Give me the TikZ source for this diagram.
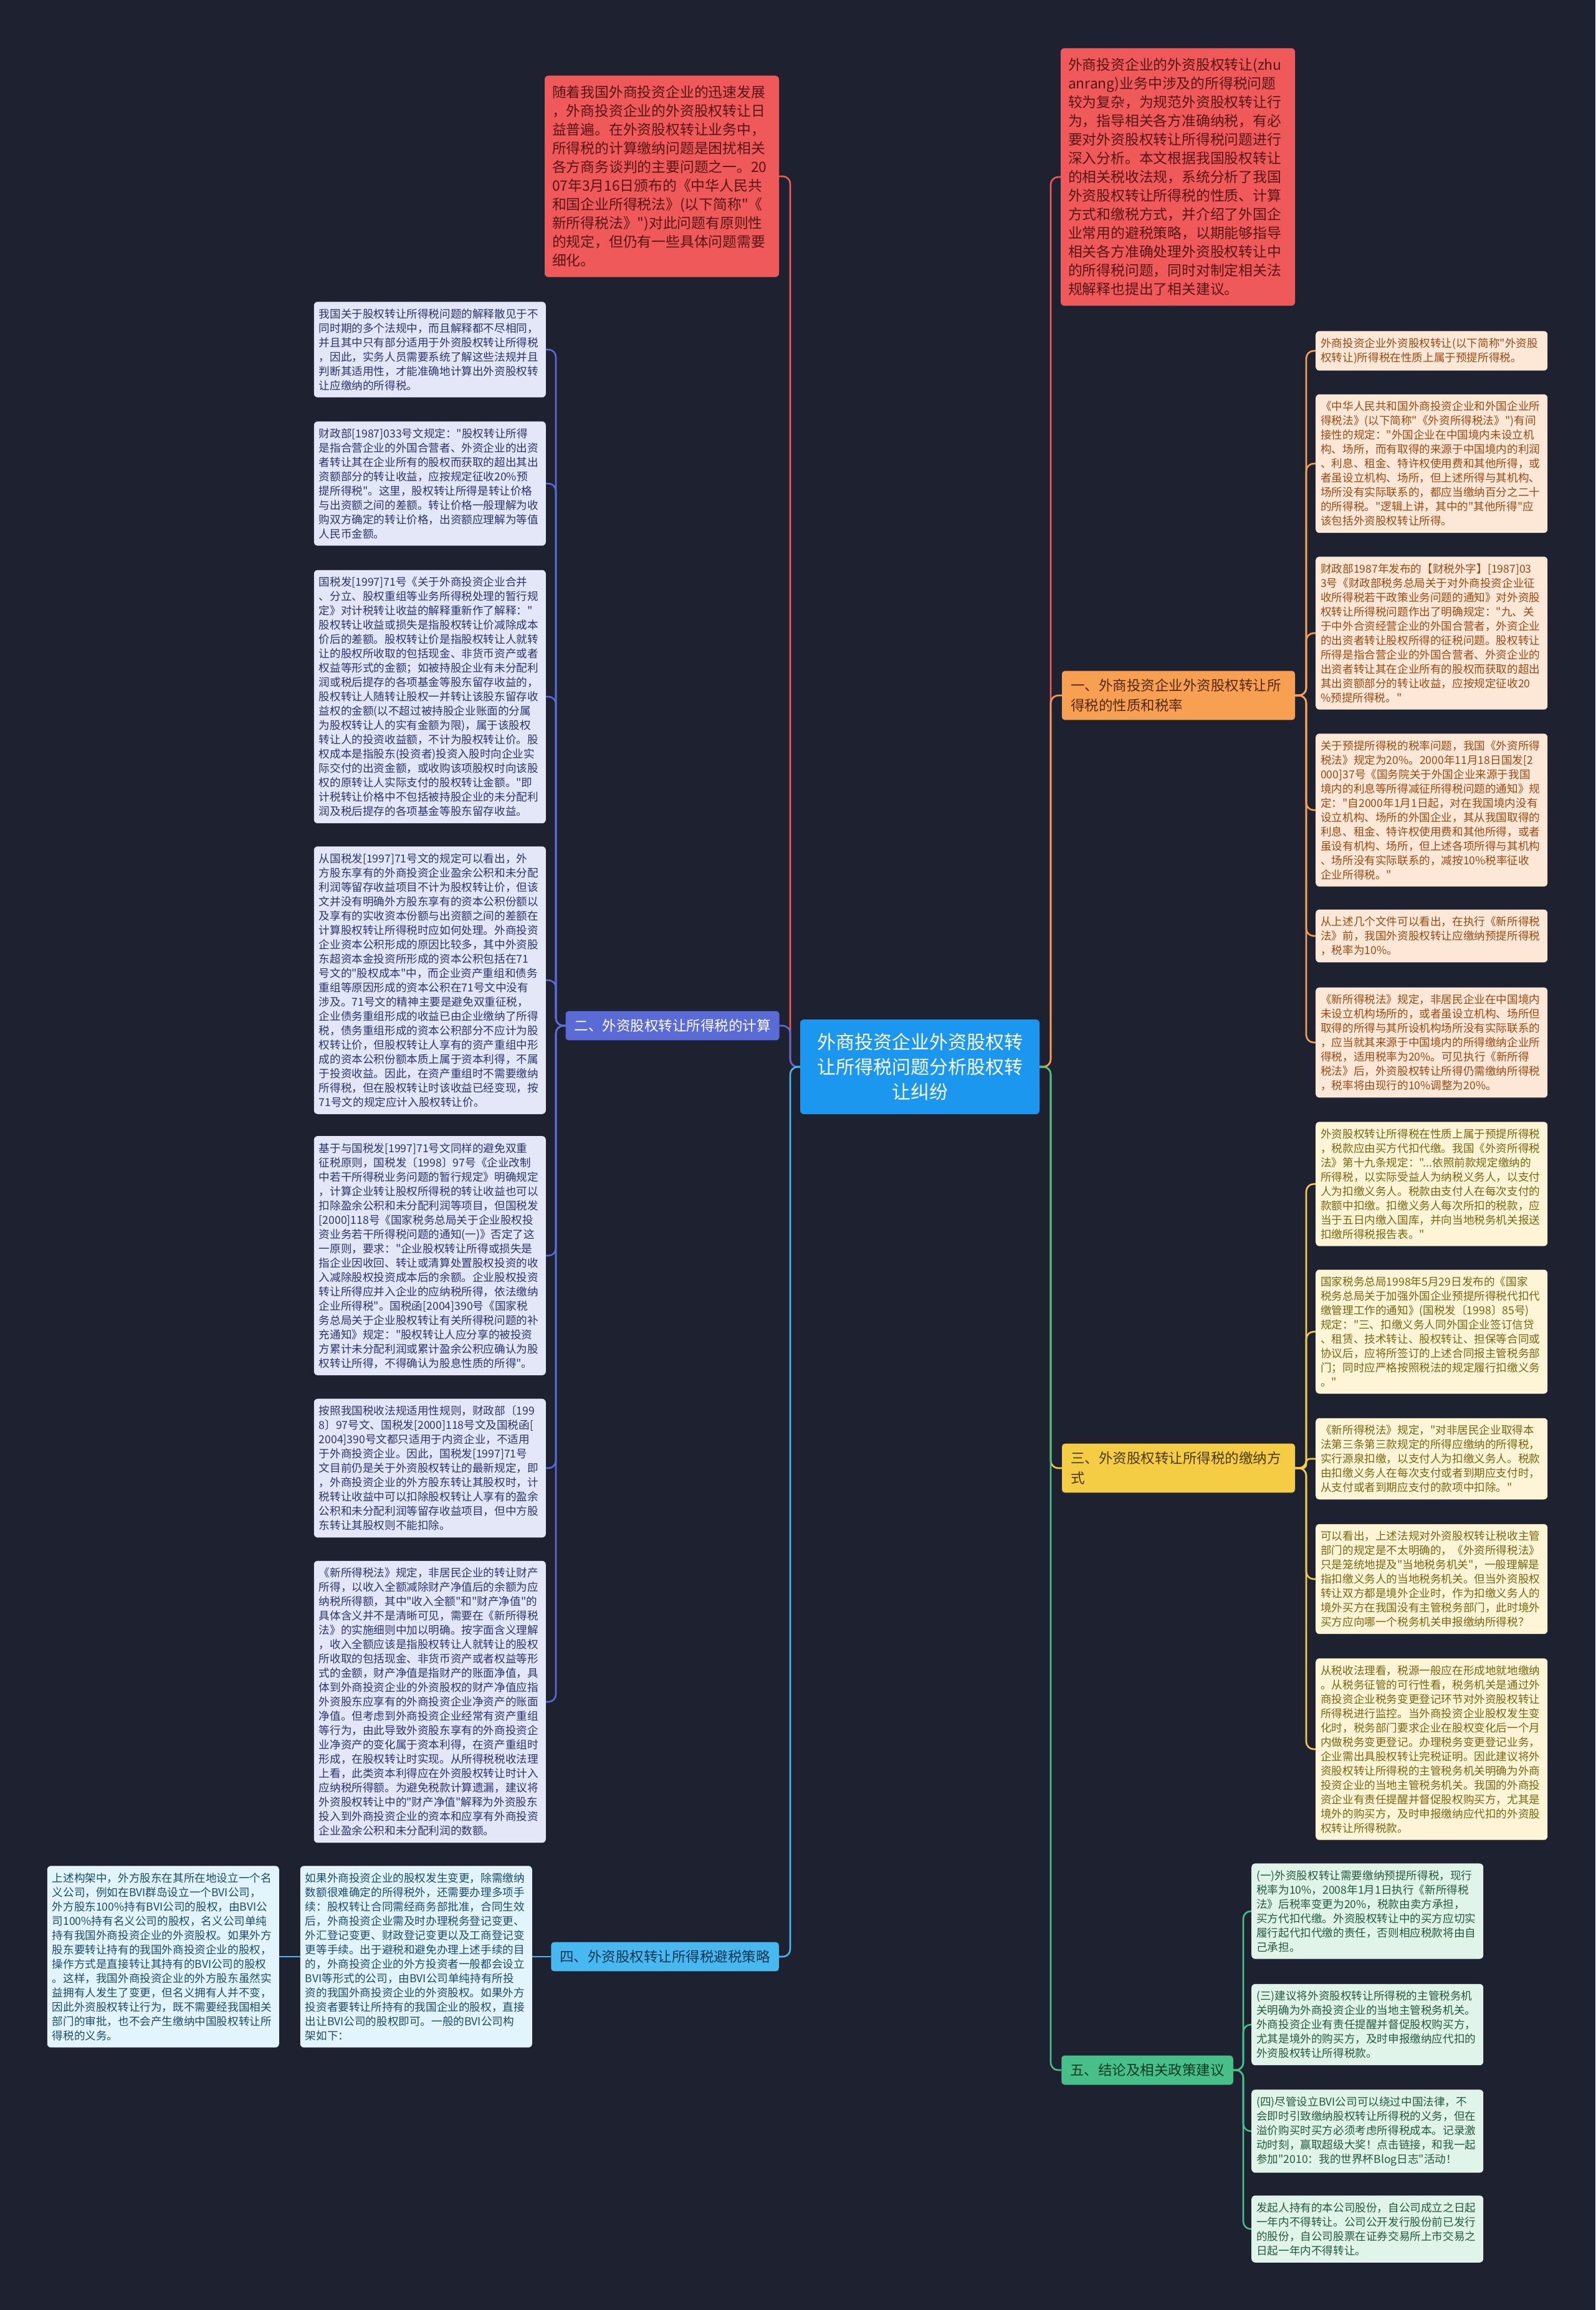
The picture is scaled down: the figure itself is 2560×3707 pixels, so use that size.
\documentclass[tikz,border=0pt]{standalone}
\usepackage{fontspec}
\newfontfamily\cjk{Noto Sans CJK SC}

\definecolor{bgnavy}{HTML}{1E2230}
\definecolor{redfill}{HTML}{F0595A}
\definecolor{redink}{HTML}{561616}
\definecolor{rootfill}{HTML}{1B97F0}
\definecolor{orfill}{HTML}{F7A052}
\definecolor{orink}{HTML}{55280A}
\definecolor{orleaf}{HTML}{FDE8D8}
\definecolor{orleafink}{HTML}{9A4A12}
\definecolor{bufill}{HTML}{5A6AD6}
\definecolor{buleaf}{HTML}{E4E7F8}
\definecolor{buleafink}{HTML}{2A3470}
\definecolor{yefill}{HTML}{F4CD45}
\definecolor{yeink}{HTML}{4A3A00}
\definecolor{yeleaf}{HTML}{FDF5D6}
\definecolor{yeleafink}{HTML}{7A6512}
\definecolor{cyfill}{HTML}{47B9F0}
\definecolor{cyink}{HTML}{0E3550}
\definecolor{cyleaf}{HTML}{E2F4FC}
\definecolor{cyleafink}{HTML}{1B4B6E}
\definecolor{grfill}{HTML}{47BF88}
\definecolor{grink}{HTML}{0E3A26}
\definecolor{grleaf}{HTML}{E1F4E9}
\definecolor{grleafink}{HTML}{215A3F}

\begin{document}
\begin{tikzpicture}[
    x=1pt, y=-1pt,
    link/.style={line width=2.6pt, rounded corners=12pt},
    rootbox/.style={fill=rootfill, text=white, rounded corners=6pt,
        text width=340pt, inner xsep=22pt, inner ysep=22pt, align=center,
        font=\cjk\fontsize{30}{40}\selectfont},
    introbox/.style={fill=redfill, text=redink, rounded corners=6pt,
        text width=352pt, inner xsep=12pt, inner ysep=16pt, align=left,
        font=\cjk\fontsize{22.8}{30}\selectfont},
    branch/.style={rounded corners=5pt, inner xsep=14pt, inner ysep=13pt,
        align=left, font=\cjk\fontsize{22.5}{32}\selectfont},
    leaf/.style={rounded corners=6pt, text width=356pt, inner xsep=8pt,
        inner ysep=11pt, align=left, font=\cjk\fontsize{17.6}{23}\selectfont},
    leafbu/.style={leaf, fill=buleaf, text=buleafink, anchor=east},
    leafor/.style={leaf, fill=orleaf, text=orleafink, anchor=west},
    leafye/.style={leaf, fill=yeleaf, text=yeleafink, anchor=west},
    leafgr/.style={leaf, fill=grleaf, text=grleafink, anchor=west},
    leafcy/.style={leaf, fill=cyleaf, text=cyleafink, anchor=east}
]

\useasboundingbox (0,0) rectangle (2560,3707);
\fill[bgnavy] (0,0) rectangle (2560,3707);

%------------------------------------------------
% centre and intro boxes
%------------------------------------------------
\node[rootbox] (root) at (1476,1712)
    {外商投资企业外资股权转\\让所得税问题分析股权转\\让纠纷};

\node[introbox] (introL) at (1062,283) {随着我国外商投资企业的迅速发展\\，外商投资企业的外资股权转让日\\益普遍。在外资股权转让业务中，\\所得税的计算缴纳问题是困扰相关\\各方商务谈判的主要问题之一。20\\07年3月16日颁布的《中华人民共\\和国企业所得税法》(以下简称"《\\新所得税法》")对此问题有原则性\\的规定，但仍有一些具体问题需要\\细化。};

\node[introbox] (introR) at (1890,284) {外商投资企业的外资股权转让(zhu\\anrang)业务中涉及的所得税问题\\较为复杂，为规范外资股权转让行\\为，指导相关各方准确纳税，有必\\要对外资股权转让所得税问题进行\\深入分析。本文根据我国股权转让\\的相关税收法规，系统分析了我国\\外资股权转让所得税的性质、计算\\方式和缴税方式，并介绍了外国企\\业常用的避税策略，以期能够指导\\相关各方准确处理外资股权转让中\\的所得税问题，同时对制定相关法\\规解释也提出了相关建议。};

%------------------------------------------------
% branches
%------------------------------------------------
\node[branch, fill=orfill, text=orink, text width=346pt] (b1) at (1891,1116)
    {一、外商投资企业外资股权转让所\\得税的性质和税率};
\node[branch, fill=bufill, text=white] (b2) at (1079,1646)
    {二、外资股权转让所得税的计算};
\node[branch, fill=yefill, text=yeink, text width=346pt] (b3) at (1891,2356)
    {三、外资股权转让所得税的缴纳方\\式};
\node[branch, fill=cyfill, text=cyink] (b4) at (1067,3140)
    {四、外资股权转让所得税避税策略};
\node[branch, fill=grfill, text=grink] (b5) at (1841,3322)
    {五、结论及相关政策建议};

%------------------------------------------------
% branch 2 leaves (left column)
%------------------------------------------------
\node[leafbu] (c1) at (876,561) {我国关于股权转让所得税问题的解释散见于不\\同时期的多个法规中，而且解释都不尽相同，\\并且其中只有部分适用于外资股权转让所得税\\，因此，实务人员需要系统了解这些法规并且\\判断其适用性，才能准确地计算出外资股权转\\让应缴纳的所得税。};

\node[leafbu] (c2) at (876,776) {财政部[1987]033号文规定："股权转让所得\\是指合营企业的外国合营者、外资企业的出资\\者转让其在企业所有的股权而获取的超出其出\\资额部分的转让收益，应按规定征收20\%预\\提所得税"。这里，股权转让所得是转让价格\\与出资额之间的差额。转让价格一般理解为收\\购双方确定的转让价格，出资额应理解为等值\\人民币金额。};

\node[leafbu] (c3) at (876,1118) {国税发[1997]71号《关于外商投资企业合并\\、分立、股权重组等业务所得税处理的暂行规\\定》对计税转让收益的解释重新作了解释："\\股权转让收益或损失是指股权转让价减除成本\\价后的差额。股权转让价是指股权转让人就转\\让的股权所收取的包括现金、非货币资产或者\\权益等形式的金额；如被持股企业有未分配利\\润或税后提存的各项基金等股东留存收益的，\\股权转让人随转让股权一并转让该股东留存收\\益权的金额(以不超过被持股企业账面的分属\\为股权转让人的实有金额为限)，属于该股权\\转让人的投资收益额，不计为股权转让价。股\\权成本是指股东(投资者)投资入股时向企业实\\际交付的出资金额，或收购该项股权时向该股\\权的原转让人实际支付的股权转让金额。"即\\计税转让价格中不包括被持股企业的未分配利\\润及税后提存的各项基金等股东留存收益。};

\node[leafbu] (c4) at (876,1573) {从国税发[1997]71号文的规定可以看出，外\\方股东享有的外商投资企业盈余公积和未分配\\利润等留存收益项目不计为股权转让价，但该\\文并没有明确外方股东享有的资本公积份额以\\及享有的实收资本份额与出资额之间的差额在\\计算股权转让所得税时应如何处理。外商投资\\企业资本公积形成的原因比较多，其中外资股\\东超资本金投资所形成的资本公积包括在71\\号文的"股权成本"中，而企业资产重组和债务\\重组等原因形成的资本公积在71号文中没有\\涉及。71号文的精神主要是避免双重征税，\\企业债务重组形成的收益已由企业缴纳了所得\\税，债务重组形成的资本公积部分不应计为股\\权转让价，但股权转让人享有的资产重组中形\\成的资本公积份额本质上属于资本利得，不属\\于投资收益。因此，在资产重组时不需要缴纳\\所得税，但在股权转让时该收益已经变现，按\\71号文的规定应计入股权转让价。};

\node[leafbu] (c5) at (876,2015) {基于与国税发[1997]71号文同样的避免双重\\征税原则，国税发〔1998〕97号《企业改制\\中若干所得税业务问题的暂行规定》明确规定\\，计算企业转让股权所得税的转让收益也可以\\扣除盈余公积和未分配利润等项目，但国税发\\{}[2000]118号《国家税务总局关于企业股权投\\资业务若干所得税问题的通知(一)》否定了这\\一原则，要求："企业股权转让所得或损失是\\指企业因收回、转让或清算处置股权投资的收\\入减除股权投资成本后的余额。企业股权投资\\转让所得应并入企业的应纳税所得，依法缴纳\\企业所得税"。国税函[2004]390号《国家税\\务总局关于企业股权转让有关所得税问题的补\\充通知》规定："股权转让人应分享的被投资\\方累计未分配利润或累计盈余公积应确认为股\\权转让所得，不得确认为股息性质的所得"。};

\node[leafbu] (c6) at (876,2356) {按照我国税收法规适用性规则，财政部〔199\\8〕97号文、国税发[2000]118号文及国税函[\\2004]390号文都只适用于内资企业，不适用\\于外商投资企业。因此，国税发[1997]71号\\文目前仍是关于外资股权转让的最新规定，即\\，外商投资企业的外方股东转让其股权时，计\\税转让收益中可以扣除股权转让人享有的盈余\\公积和未分配利润等留存收益项目，但中方股\\东转让其股权则不能扣除。};

\node[leafbu] (c7) at (876,2731) {《新所得税法》规定，非居民企业的转让财产\\所得，以收入全额减除财产净值后的余额为应\\纳税所得额，其中"收入全额"和"财产净值"的\\具体含义并不是清晰可见，需要在《新所得税\\法》的实施细则中加以明确。按字面含义理解\\，收入全额应该是指股权转让人就转让的股权\\所收取的包括现金、非货币资产或者权益等形\\式的金额，财产净值是指财产的账面净值，具\\体到外商投资企业的外资股权的财产净值应指\\外资股东应享有的外商投资企业净资产的账面\\净值。但考虑到外商投资企业经常有资产重组\\等行为，由此导致外资股东享有的外商投资企\\业净资产的变化属于资本利得，在资产重组时\\形成，在股权转让时实现。从所得税税收法理\\上看，此类资本利得应在外资股权转让时计入\\应纳税所得额。为避免税款计算遗漏，建议将\\外资股权转让中的"财产净值"解释为外资股东\\投入到外商投资企业的资本和应享有外商投资\\企业盈余公积和未分配利润的数额。};

%------------------------------------------------
% branch 1 leaves
%------------------------------------------------
\node[leafor] (r1) at (2111,563) {外商投资企业外资股权转让(以下简称"外资股\\权转让)所得税在性质上属于预提所得税。};

\node[leafor] (r2) at (2111,744) {《中华人民共和国外商投资企业和外国企业所\\得税法》(以下简称"《外资所得税法》")有间\\接性的规定："外国企业在中国境内未设立机\\构、场所，而有取得的来源于中国境内的利润\\、利息、租金、特许权使用费和其他所得，或\\者虽设立机构、场所，但上述所得与其机构、\\场所没有实际联系的，都应当缴纳百分之二十\\的所得税。"逻辑上讲，其中的"其他所得"应\\该包括外资股权转让所得。};

\node[leafor] (r3) at (2111,1016) {财政部1987年发布的【财税外字】[1987]03\\3号《财政部税务总局关于对外商投资企业征\\收所得税若干政策业务问题的通知》对外资股\\权转让所得税问题作出了明确规定："九、关\\于中外合资经营企业的外国合营者，外资企业\\的出资者转让股权所得的征税问题。股权转让\\所得是指合营企业的外国合营者、外资企业的\\出资者转让其在企业所有的股权而获取的超出\\其出资额部分的转让收益，应按规定征收20\\\%预提所得税。"};

\node[leafor] (r4) at (2111,1300) {关于预提所得税的税率问题，我国《外资所得\\税法》规定为20\%。2000年11月18日国发[2\\000]37号《国务院关于外国企业来源于我国\\境内的利息等所得减征所得税问题的通知》规\\定："自2000年1月1日起，对在我国境内没有\\设立机构、场所的外国企业，其从我国取得的\\利息、租金、特许权使用费和其他所得，或者\\虽设有机构、场所，但上述各项所得与其机构\\、场所没有实际联系的，减按10\%税率征收\\企业所得税。"};

\node[leafor] (r5) at (2111,1502) {从上述几个文件可以看出，在执行《新所得税\\法》前，我国外资股权转让应缴纳预提所得税\\，税率为10\%。};

\node[leafor] (r6) at (2111,1673) {《新所得税法》规定，非居民企业在中国境内\\未设立机构场所的，或者虽设立机构、场所但\\取得的所得与其所设机构场所没有实际联系的\\，应当就其来源于中国境内的所得缴纳企业所\\得税，适用税率为20\%。可见执行《新所得\\税法》后，外资股权转让所得仍需缴纳所得税\\，税率将由现行的10\%调整为20\%。};

%------------------------------------------------
% branch 3 leaves
%------------------------------------------------
\node[leafye] (y1) at (2111,1900) {外资股权转让所得税在性质上属于预提所得税\\，税款应由买方代扣代缴。我国《外资所得税\\法》第十九条规定："...依照前款规定缴纳的\\所得税，以实际受益人为纳税义务人，以支付\\人为扣缴义务人。税款由支付人在每次支付的\\款额中扣缴。扣缴义务人每次所扣的税款，应\\当于五日内缴入国库，并向当地税务机关报送\\扣缴所得税报告表。"};

\node[leafye] (y2) at (2111,2137) {国家税务总局1998年5月29日发布的《国家\\税务总局关于加强外国企业预提所得税代扣代\\缴管理工作的通知》(国税发〔1998〕85号)\\规定："三、扣缴义务人同外国企业签订信贷\\、租赁、技术转让、股权转让、担保等合同或\\协议后，应将所签订的上述合同报主管税务部\\门；同时应严格按照税法的规定履行扣缴义务\\。"};

\node[leafye] (y3) at (2111,2341) {《新所得税法》规定，"对非居民企业取得本\\法第三条第三款规定的所得应缴纳的所得税，\\实行源泉扣缴，以支付人为扣缴义务人。税款\\由扣缴义务人在每次支付或者到期应支付时，\\从支付或者到期应支付的款项中扣除。"};

\node[leafye] (y4) at (2111,2534) {可以看出，上述法规对外资股权转让税收主管\\部门的规定是不太明确的，《外资所得税法》\\只是笼统地提及"当地税务机关"，一般理解是\\指扣缴义务人的当地税务机关。但当外资股权\\转让双方都是境外企业时，作为扣缴义务人的\\境外买方在我国没有主管税务部门，此时境外\\买方应向哪一个税务机关申报缴纳所得税？};

\node[leafye] (y5) at (2111,2807) {从税收法理看，税源一般应在形成地就地缴纳\\。从税务征管的可行性看，税务机关是通过外\\商投资企业税务变更登记环节对外资股权转让\\所得税进行监控。当外商投资企业股权发生变\\化时，税务部门要求企业在股权变化后一个月\\内做税务变更登记。办理税务变更登记业务，\\企业需出具股权转让完税证明。因此建议将外\\资股权转让所得税的主管税务机关明确为外商\\投资企业的当地主管税务机关。我国的外商投\\资企业有责任提醒并督促股权购买方，尤其是\\境外的购买方，及时申报缴纳应代扣的外资股\\权转让所得税款。};

%------------------------------------------------
% branch 4 leaves (chain to the left)
%------------------------------------------------
\node[leafcy] (s1) at (854,3140) {如果外商投资企业的股权发生变更，除需缴纳\\数额很难确定的所得税外，还需要办理多项手\\续：股权转让合同需经商务部批准，合同生效\\后，外商投资企业需及时办理税务登记变更、\\外汇登记变更、财政登记变更以及工商登记变\\更等手续。出于避税和避免办理上述手续的目\\的，外商投资企业的外方投资者一般都会设立\\BVI等形式的公司，由BVI公司单纯持有所投\\资的我国外商投资企业的外资股权。如果外方\\投资者要转让所持有的我国企业的股权，直接\\出让BVI公司的股权即可。一般的BVI公司构\\架如下：};

\node[leafcy] (s2) at (448,3140) {上述构架中，外方股东在其所在地设立一个名\\义公司，例如在BVI群岛设立一个BVI公司，\\外方股东100\%持有BVI公司的股权，由BVI公\\司100\%持有名义公司的股权，名义公司单纯\\持有我国外商投资企业的外资股权。如果外方\\股东要转让持有的我国外商投资企业的股权，\\操作方式是直接转让其持有的BVI公司的股权\\。这样，我国外商投资企业的外方股东虽然实\\益拥有人发生了变更，但名义拥有人并不变，\\因此外资股权转让行为，既不需要经我国相关\\部门的审批，也不会产生缴纳中国股权转让所\\得税的义务。};

%------------------------------------------------
% branch 5 leaves
%------------------------------------------------
\node[leafgr] (g1) at (2008,3067) {(一)外资股权转让需要缴纳预提所得税，现行\\税率为10\%，2008年1月1日执行《新所得税\\法》后税率变更为20\%，税款由卖方承担，\\买方代扣代缴。外资股权转让中的买方应切实\\履行起代扣代缴的责任，否则相应税款将由自\\己承担。};

\node[leafgr] (g2) at (2008,3249) {(三)建议将外资股权转让所得税的主管税务机\\关明确为外商投资企业的当地主管税务机关。\\外商投资企业有责任提醒并督促股权购买方，\\尤其是境外的购买方，及时申报缴纳应代扣的\\外资股权转让所得税款。};

\node[leafgr] (g3) at (2008,3420) {(四)尽管设立BVI公司可以绕过中国法律，不\\会即时引致缴纳股权转让所得税的义务，但在\\溢价购买时买方必须考虑所得税成本。记录激\\动时刻，赢取超级大奖！点击链接，和我一起\\参加"2010：我的世界杯Blog日志"活动！};

\node[leafgr] (g4) at (2008,3577) {发起人持有的本公司股份，自公司成立之日起\\一年内不得转让。公司公开发行股份前已发行\\的股份，自公司股票在证券交易所上市交易之\\日起一年内不得转让。};

%------------------------------------------------
% connectors
%------------------------------------------------
\coordinate (hubR) at (1686,1712);
\coordinate (hubL) at (1268,1712);
\coordinate (hub1) at (2096,1116);
\coordinate (hub2) at (892,1646);
\coordinate (hub3) at (2096,2356);
\coordinate (hub5) at (1995,3322);

\draw[link, redfill] (root.east) -- (hubR) |- (introR.west);
\draw[link, orfill] (root.east) -- (hubR) |- (b1.west);
\draw[link, yefill] (root.east) -- (hubR) |- (b3.west);
\draw[link, grfill] (root.east) -- (hubR) |- (b5.west);

\draw[link, redfill] (root.west) -- (hubL) |- (introL.east);
\draw[link, bufill] (root.west) -- (hubL) |- (b2.east);
\draw[link, cyfill] (root.west) -- (hubL) |- (b4.east);

\draw[link, orfill] (b1.east) -- (hub1) |- (r1.west);
\draw[link, orfill] (b1.east) -- (hub1) |- (r2.west);
\draw[link, orfill] (b1.east) -- (hub1) |- (r3.west);
\draw[link, orfill] (b1.east) -- (hub1) |- (r4.west);
\draw[link, orfill] (b1.east) -- (hub1) |- (r5.west);
\draw[link, orfill] (b1.east) -- (hub1) |- (r6.west);

\draw[link, bufill] (b2.west) -- (hub2) |- (c1.east);
\draw[link, bufill] (b2.west) -- (hub2) |- (c2.east);
\draw[link, bufill] (b2.west) -- (hub2) |- (c3.east);
\draw[link, bufill] (b2.west) -- (hub2) |- (c4.east);
\draw[link, bufill] (b2.west) -- (hub2) |- (c5.east);
\draw[link, bufill] (b2.west) -- (hub2) |- (c6.east);
\draw[link, bufill] (b2.west) -- (hub2) |- (c7.east);

\draw[link, yefill] (b3.east) -- (hub3) |- (y1.west);
\draw[link, yefill] (b3.east) -- (hub3) |- (y2.west);
\draw[link, yefill, rounded corners=6pt] (b3.east) -- (hub3) |- (y3.west);
\draw[link, yefill] (b3.east) -- (hub3) |- (y4.west);
\draw[link, yefill] (b3.east) -- (hub3) |- (y5.west);

\draw[link, cyfill] (b4.west) -- (s1.east);
\draw[link, cyfill] (s1.west) -- (s2.east);

\draw[link, grfill] (b5.east) -- (hub5) |- (g1.west);
\draw[link, grfill] (b5.east) -- (hub5) |- (g2.west);
\draw[link, grfill] (b5.east) -- (hub5) |- (g3.west);
\draw[link, grfill] (b5.east) -- (hub5) |- (g4.west);

\end{tikzpicture}
\end{document}
